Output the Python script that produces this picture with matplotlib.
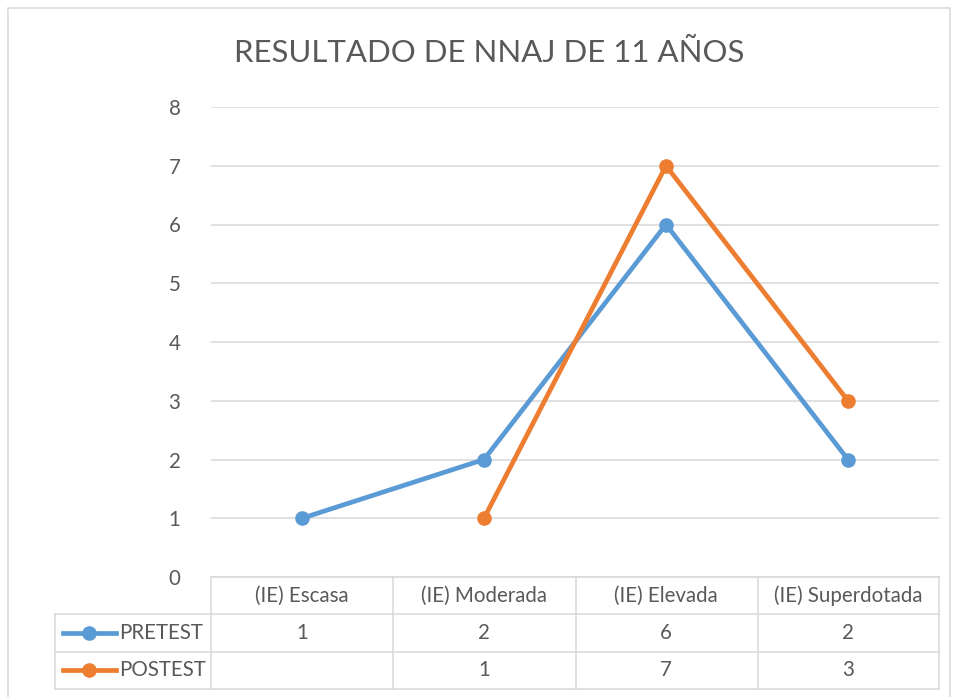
import matplotlib
matplotlib.use("Agg")
import matplotlib.pyplot as plt
import matplotlib.transforms as mtransforms
from matplotlib.lines import Line2D
from matplotlib.patches import Rectangle

categories = ["(IE) Escasa", "(IE) Moderada", "(IE) Elevada", "(IE) Superdotada"]
pretest = [1, 2, 6, 2]
postest = [None, 1, 7, 3]
series_names = ["PRETEST", "POSTEST"]
colors = ["#5B9BD5", "#ED7D31"]
title = "RESULTADO DE NNAJ DE 11 AÑOS"
yticks = [0, 1, 2, 3, 4, 5, 6, 7, 8]

plt.rcParams['font.family'] = ['Lato', 'DejaVu Sans']
W, H = 956, 697
fig = plt.figure(figsize=(W / 100, H / 100), dpi=100)
FS = 14.8
TC = "#595959"

def fx(px):
    return px / W

def fy(py):
    return 1 - py / H

ax = fig.add_axes([fx(211), fy(577), fx(939) - fx(211), fy(107) - fy(577)])
ax.set_xlim(0, len(categories))
ax.set_ylim(0, 8)
ax.set_yticks(yticks)
ax.set_yticklabels([str(v) for v in yticks], fontsize=FS, color=TC)
ax.tick_params(axis='y', length=0, pad=22)
ax.set_xticks([])
for s in ax.spines.values():
    s.set_visible(False)
ax.grid(axis='y', color="#D9D9D9", linewidth=1.1)
ax.set_axisbelow(True)

xs = [i + 0.5 for i in range(len(categories))]
for vals, col in zip([pretest, postest], colors):
    px = [x for x, v in zip(xs, vals) if v is not None]
    pv = [v for v in vals if v is not None]
    ax.plot(px, pv, color=col, linewidth=3.4, marker='o', markersize=9.5,
            solid_capstyle='round', zorder=3, clip_on=False)

fig.text(fx(489), fy(53), title, ha='center', va='center', fontsize=22.4, color=TC)

# Table
tcol = "#D9D9D9"
lw = 1.1
blend = mtransforms.blended_transform_factory(ax.transData, fig.transFigure)
row_tops = [577, 614, 652, 689]
fig.add_artist(Line2D([fx(211), fx(939)], [fy(577), fy(577)], color=tcol, lw=lw))
for py in row_tops[1:]:
    fig.add_artist(Line2D([fx(55), fx(939)], [fy(py), fy(py)], color=tcol, lw=lw))
for px in [211, 393, 576, 758, 939]:
    fig.add_artist(Line2D([fx(px), fx(px)], [fy(577), fy(689)], color=tcol, lw=lw))
fig.add_artist(Line2D([fx(55), fx(55)], [fy(614), fy(689)], color=tcol, lw=lw))

for x, c in zip(xs, categories):
    fig.text(x, fy(596), c, transform=blend, ha='center', va='center', fontsize=FS, color=TC)
row_centers = [633, 670]
for name, vals, col, yc in zip(series_names, [pretest, postest], colors, row_centers):
    fig.add_artist(Line2D([fx(63), fx(116)], [fy(yc), fy(yc)], color=col, lw=3.4))
    fig.add_artist(Line2D([fx(89)], [fy(yc)], color=col, marker='o', markersize=9.5, lw=0))
    fig.text(fx(119), fy(yc), name, ha='left', va='center', fontsize=FS, color=TC)
    for x, v in zip(xs, vals):
        if v is not None:
            fig.text(x, fy(yc), str(v), transform=blend, ha='center', va='center',
                     fontsize=FS, color=TC)

fig.add_artist(Rectangle((fx(8), fy(720)), fx(950) - fx(8), fy(8) - fy(720),
                         transform=fig.transFigure, fill=False, edgecolor="#D9D9D9", lw=1.1))

fig.savefig("out.png", dpi=100)
